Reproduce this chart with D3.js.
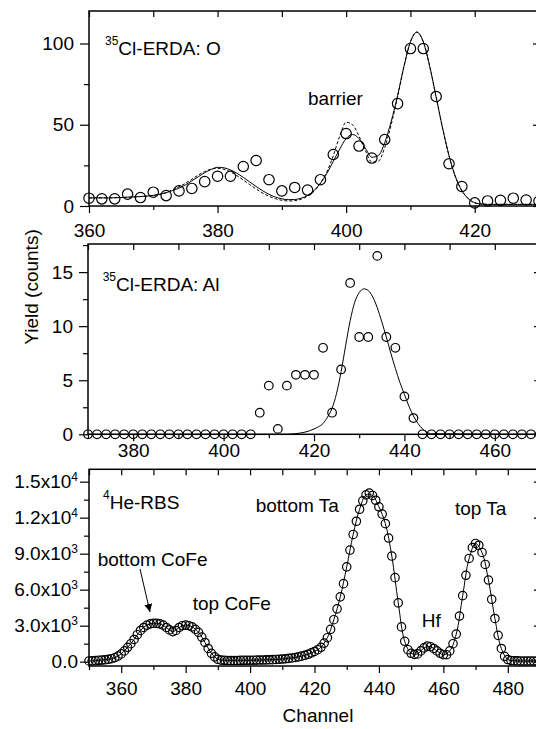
<!DOCTYPE html>
<html>
<head>
<meta charset="utf-8">
<script src="https://cdn.jsdelivr.net/npm/d3@7"></script>
<style>
  body { margin: 0; background: #fff; }
  svg { display: block; font-family: 'Liberation Sans', Arial, sans-serif; }
  .domain { display: none; }
  .tick line { stroke: #000; stroke-width: 1.2; }
  .tick text { font-size: 19px; fill: #000; font-family: 'Liberation Sans', Arial, sans-serif; }
  .lbl { font-size: 19px; fill: #000; }
</style>
</head>
<body>
<svg width="536" height="729"></svg>
<script>
// ---- values ----

// 35Cl-ERDA : O
const oChannels = d3.range(360, 431, 2);
const oYield = [4.8, 4.4, 4.4, 7.3, 5.2, 8.5, 6.4, 9.3, 10.8, 15, 18.3, 18.3, 24.3, 28, 16.2, 9.3, 11.4, 9.8,
  16.2, 31.7, 44.6, 36.9, 29.5, 40.9, 63, 96.9, 96.9, 67.4, 26, 12, 1.9, 3.1, 3.5, 4.8, 3.7, 3];
const oFitChannels = d3.range(360, 431);
const oFitSolid = [5, 5, 5, 5, 5.1, 5.2, 5.4, 5.6, 5.8, 6.1, 6.5, 7.2, 8.2, 9.5, 11, 13, 15.5, 18, 20.5, 22.5,
  23.8, 23.5, 22.2, 20.2, 17.6, 14.8, 12, 9.4, 7.2, 5.5, 4.4, 3.9, 4, 4.8, 6.5, 9.5, 14, 20, 27.5, 35,
  41.5, 44, 41.5, 35.5, 30, 31, 39, 52, 68, 86, 101, 107, 101, 86, 67, 48, 31, 18, 9.5, 4.5,
  2, 1.2, 1, 1, 1, 1, 1, 1, 1, 1, 1];
const oFitDashed = [5, 5, 5, 5, 5.1, 5.2, 5.4, 5.6, 5.8, 6.1, 6.5, 7.2, 8.2, 10, 11.8, 14, 16.5, 19, 21.2, 22.7,
  23.2, 22.6, 21, 18.7, 16, 13.2, 10.5, 8, 6, 4.5, 3.5, 3.1, 3.3, 4.2, 6, 9, 14, 21, 31, 43,
  51.5, 50, 43, 34, 27, 27.5, 36, 50, 67, 86, 101, 107, 101, 86, 67, 48, 31, 18, 9.5, 4.5,
  2, 1.2, 1, 1, 1, 1, 1, 1, 1, 1, 1];

// 35Cl-ERDA : Al
const alChannels = d3.range(370, 471, 2);
const alYield = [0, 0, 0, 0, 0, 0, 0, 0, 0, 0, 0, 0, 0, 0, 0, 0, 0, 0, 0,
  2, 4.5, 0.5, 4.5, 5.5, 5.5, 5.5, 8, 2, 6, 14, 9, 9, 16.5, 9, 8, 3.5, 1.5,
  0, 0, 0, 0, 0, 0, 0, 0, 0, 0, 0, 0, 0, 0];
const alFitChannels = [370, 414, 415, 416, 417, 418, 419, 420, 421, 422, 423, 424, 425, 426, 427, 428, 429, 430,
  431, 432, 433, 434, 435, 436, 437, 438, 439, 440, 441, 442, 443, 444, 445, 446, 470];
const alFit = [0, 0, 0.02, 0.06, 0.12, 0.2, 0.32, 0.5, 0.7, 1, 1.6, 2.4, 3.8, 5.8, 8.2, 10.5, 12.2, 13.1,
  13.45, 13.3, 12.7, 11.7, 10.4, 9, 7.5, 6.1, 4.8, 3.7, 2.6, 1.7, 1, 0.5, 0.2, 0.05, 0];

// 4He-RBS
const rbsChannels = d3.range(350, 491);
const rbsYield = [60, 70, 90, 110, 130, 160, 200, 250, 330, 470,
  650, 900, 1200, 1500, 1850, 2250, 2600, 2850, 3050, 3150,
  3200, 3200, 3150, 3050, 2850, 2650, 2500, 2600, 2850, 3000,
  3050, 3000, 2900, 2700, 2450, 2050, 1600, 1100, 700, 400,
  200, 130, 110, 100, 100, 100, 100, 105, 110, 115,
  120, 125, 130, 135, 140, 150, 160, 170, 185, 200,
  220, 245, 275, 310, 350, 400, 460, 530, 620, 730,
  850, 1000, 1200, 1550, 2000, 2700, 3500, 4400, 5400, 6500,
  7900, 9300, 10600, 11700, 12700, 13400, 13900, 14050, 13850, 13450,
  12900, 12300, 11500, 10300, 8800, 7000, 4900, 2900, 1700, 1000,
  700, 600, 650, 900, 1150, 1300, 1250, 1100, 900, 700,
  580, 580, 900, 1500, 2300, 3800, 5500, 7200, 8600, 9500,
  9850, 9700, 9100, 8100, 6800, 5200, 3600, 2200, 1100, 450,
  180, 100, 80, 70, 60, 60, 60, 60, 60, 60, 60];
const rbsFitChannels = d3.range(350, 491, 2);
const rbsFit = [60, 90, 130, 200, 330, 650, 1200, 1850, 2600, 3050, 3200, 3150, 2850, 2500, 2850, 3050,
  2900, 2450, 1600, 700, 200, 110, 100, 100, 110, 120, 130, 140, 160, 185, 220, 275, 350, 460, 620,
  850, 1200, 2000, 3500, 5400, 7900, 10600, 12700, 13900, 13850, 12900, 11500, 8800, 4900, 1700,
  700, 650, 1150, 1250, 900, 580, 900, 2300, 5500, 8600, 9850, 9100, 6800, 3600, 1100, 180, 80,
  60, 60, 60, 60];

// tick labels
const oTicks = [0, 50, 100];
const alTicks = [0, 5, 10, 15];
const rbsTicks = [0, 3000, 6000, 9000, 12000, 15000];
const rbsTickLabels = [['0.0', ''], ['3.0x10', '3'], ['6.0x10', '3'], ['9.0x10', '3'], ['1.2x10', '4'], ['1.5x10', '4']];

// ---- layout ----
const svg = d3.select('svg');
const panels = [
  {left: 89, right: 539, top: 11, bottom: 206, xDomain: [360, 430], yDomain: [0, 120],
    xTicks: [360, 380, 400, 420], xMinor: [370, 390, 410, 430], yTicks: oTicks, yMinor: [25, 75],
    xPad: 10.5, r: 5.2},
  {left: 88, right: 540, top: 244, bottom: 434.3, xDomain: [370, 470], yDomain: [0, 17.6],
    xTicks: [380, 400, 420, 440, 460], xMinor: [370, 390, 410, 430, 450, 470], yTicks: alTicks,
    yMinor: [2.5, 7.5, 12.5, 17.5], xPad: 2, r: 4.3},
  {left: 89, right: 540, top: 469.3, bottom: 666, xDomain: [350, 490], yDomain: [-360, 16030],
    xTicks: [360, 380, 400, 420, 440, 460, 480], xMinor: [350, 370, 390, 410, 430, 450, 470, 490],
    yTicks: rbsTicks, yMinor: d3.range(1500, 15000, 3000), xPad: 8.5, r: 4.2}
];

function drawPanel(p) {
  const x = d3.scaleLinear().domain(p.xDomain).range([p.left, p.right]);
  const y = d3.scaleLinear().domain(p.yDomain).range([p.bottom, p.top]);
  const g = svg.append('g');

  const yAxis = g.append('g').attr('class', 'axis--y').attr('transform', `translate(${p.left},0)`)
    .call(d3.axisLeft(y).tickValues(p.yTicks).tickSize(9).tickPadding(6));
  g.append('g').attr('transform', `translate(${p.left},0)`)
    .call(d3.axisLeft(y).tickValues(p.yMinor).tickSize(5).tickFormat(''));
  g.append('g').attr('transform', `translate(0,${p.bottom})`)
    .call(d3.axisBottom(x).tickValues(p.xTicks).tickSize(7).tickPadding(p.xPad));
  g.append('g').attr('transform', `translate(0,${p.bottom})`)
    .call(d3.axisBottom(x).tickValues(p.xMinor).tickSize(4).tickFormat(''));
  // mirrored ticks, pointing in
  g.append('g').attr('transform', `translate(0,${p.top})`)
    .call(d3.axisTop(x).tickValues(p.xTicks.concat(p.xMinor)).tickSize(-6).tickFormat(''));
  g.append('g').attr('transform', `translate(${p.right},0)`)
    .call(d3.axisRight(y).tickValues(p.yTicks).tickSize(-6).tickFormat(''));

  g.append('rect')
    .attr('x', p.left).attr('y', p.top)
    .attr('width', p.right - p.left).attr('height', p.bottom - p.top)
    .attr('fill', 'none').attr('stroke', '#000').attr('stroke-width', 1.5);

  return {x, y, g, yAxis};
}

const line = (x, y, xs) => d3.line()
  .x((d, i) => x(xs[i]))
  .y((d) => y(d))
  .curve(d3.curveMonotoneX);

function circles(g, x, y, xs, ys, r) {
  g.append('g').selectAll('circle')
    .data(ys)
    .enter().append('circle')
      .attr('cx', (d, i) => x(xs[i]))
      .attr('cy', (d) => y(d))
      .attr('r', r)
      .attr('fill', 'none')
      .attr('stroke', '#000')
      .attr('stroke-width', 1.2);
}

function label(x, y, txt, sup, size) {
  const t = svg.append('text').attr('class', 'lbl').attr('x', x).attr('y', y);
  if (sup) t.append('tspan').attr('font-size', 12).attr('dy', -10).text(sup);
  t.append('tspan').attr('dy', sup ? 10 : 0).text(txt);
  if (size) t.attr('font-size', size);
  return t;
}

// top panel: O
let a = drawPanel(panels[0]);
a.g.append('path').attr('d', line(a.x, a.y, oFitChannels)(oFitDashed))
  .attr('fill', 'none').attr('stroke', '#000').attr('stroke-width', 1).attr('stroke-dasharray', '3,2');
a.g.append('path').attr('d', line(a.x, a.y, oFitChannels)(oFitSolid))
  .attr('fill', 'none').attr('stroke', '#000').attr('stroke-width', 1);
circles(a.g, a.x, a.y, oChannels, oYield, panels[0].r);

// middle panel: Al
let b = drawPanel(panels[1]);
b.g.append('path').attr('d', line(b.x, b.y, alFitChannels)(alFit))
  .attr('fill', 'none').attr('stroke', '#000').attr('stroke-width', 1);
circles(b.g, b.x, b.y, alChannels, alYield, panels[1].r);

// bottom panel: RBS
let c = drawPanel(panels[2]);
c.g.append('path').attr('d', line(c.x, c.y, rbsFitChannels).curve(d3.curveCatmullRom)(rbsFit))
  .attr('fill', 'none').attr('stroke', '#000').attr('stroke-width', 1);
circles(c.g, c.x, c.y, rbsChannels, rbsYield, panels[2].r);

// exponent labels on the RBS left axis only
c.yAxis.selectAll('g.tick text')
  .each(function(d) {
    const lab = rbsTickLabels[rbsTicks.indexOf(d)];
    const t = d3.select(this).text(lab[0]).attr('x', -11);
    if (lab[1]) t.append('tspan').attr('font-size', 12).attr('dy', '-0.6em').text(lab[1]);
  });

// annotations
label(105, 55, 'Cl-ERDA: O', '35');
label(308, 105, 'barrier');
label(102.7, 291, 'Cl-ERDA: Al', '35');
label(103, 509, 'He-RBS', '4');
label(97.7, 566, 'bottom CoFe');
label(192.7, 610, 'top CoFe');
label(255.7, 512, 'bottom Ta');
label(455, 515, 'top Ta');
label(421.7, 626.7, 'Hf');

// arrow to the bottom CoFe peak
svg.append('defs').append('marker')
  .attr('id', 'head').attr('viewBox', '0 0 10 10').attr('refX', 10).attr('refY', 5)
  .attr('markerWidth', 8).attr('markerHeight', 8).attr('markerUnits', 'userSpaceOnUse')
  .attr('orient', 'auto')
  .append('path').attr('d', 'M0,0 L10,5 L0,10 Z').attr('fill', '#000');
svg.append('line')
  .attr('x1', 140).attr('y1', 569).attr('x2', 150).attr('y2', 612)
  .attr('stroke', '#000').attr('stroke-width', 1).attr('marker-end', 'url(#head)');

// axis titles
svg.append('text').attr('class', 'lbl').attr('font-size', 23)
  .attr('text-anchor', 'middle').attr('x', 318).attr('y', 722).text('Channel');
svg.append('text').attr('class', 'lbl').attr('font-size', 18)
  .attr('text-anchor', 'middle')
  .attr('transform', 'translate(38,287) rotate(-90)').text('Yield (counts)');
</script>
</body>
</html>
